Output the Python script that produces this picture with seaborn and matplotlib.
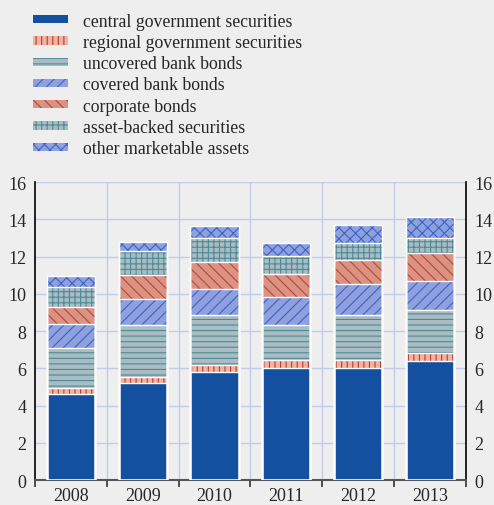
import numpy as np
import pandas as pd
import seaborn as sns
import matplotlib.pyplot as plt
from matplotlib.patches import Patch
from matplotlib.ticker import FixedLocator

# data (segment sizes)
years = ["2008", "2009", "2010", "2011", "2012", "2013"]
central = [4.64, 5.20, 5.78, 6.03, 6.04, 6.40]
regional = [0.28, 0.34, 0.39, 0.40, 0.43, 0.43]
uncovered = [2.16, 2.78, 2.69, 1.88, 2.41, 2.30]
covered = [1.28, 1.41, 1.41, 1.53, 1.65, 1.57]
corporate = [0.94, 1.27, 1.46, 1.21, 1.27, 1.48]
abs_sec = [1.04, 1.30, 1.28, 0.98, 0.93, 0.80]
other = [0.59, 0.46, 0.63, 0.68, 0.94, 1.15]

labels = ["central government securities", "regional government securities",
          "uncovered bank bonds", "covered bank bonds", "corporate bonds",
          "asset-backed securities", "other marketable assets"]
series = [central, regional, uncovered, covered, corporate, abs_sec, other]
faces = ["#1350a0", "#efb3a3", "#a9bcc2", "#8fa0dc", "#da9282", "#a9bcc2", "#8fa0dc"]
hatch_cols = ["#1350a0", "#bb3b2c", "#4c8a98", "#3a64c8", "#b8463a", "#4c8a98", "#3a64c8"]
hatches = ["", "|||", "---", "///", "\\\\\\", "+++", "xxx"]

bg = "#edeeed"
sns.set_style("white")
plt.rcParams["font.family"] = ["Liberation Serif", "DejaVu Serif"]
plt.rcParams["hatch.linewidth"] = 0.8

df = pd.DataFrame({"year": years})
tops = np.cumsum(np.array(series), axis=0)

fig = plt.figure(figsize=(4.94, 5.06), dpi=100, facecolor=bg)
ax = fig.add_axes([0.0709, 0.0494, 0.8721, 0.5889], facecolor=bg)

# stacked bars: draw tallest first, lower stacks cover them
for i in range(len(series) - 1, -1, -1):
    df["top"] = tops[i]
    sns.barplot(data=df, x="year", y="top", color=faces[i], hatch=hatches[i],
                edgecolor=hatch_cols[i], linewidth=0, width=0.67, saturation=1,
                ax=ax, zorder=2)
    sns.barplot(data=df, x="year", y="top", fill=False, edgecolor="white",
                linewidth=1.0, width=0.67, ax=ax, zorder=3)

ax.set_ylim(0, 16)
ax.set_xlim(-0.5, 5.5)
ax.set_yticks(range(0, 17, 2))
ax.xaxis.set_minor_locator(FixedLocator(np.arange(-0.5, 6, 1)))
ax.grid(False)
for y in range(2, 17, 2):
    ax.axhline(y, color="#c4cbea", lw=1.0, zorder=0)
for x in np.arange(0.5, 5, 1):
    ax.axvline(x, color="#c4cbea", lw=1.0, zorder=0)

ax.set_xlabel("")
ax.set_ylabel("")
ax.tick_params(axis="x", which="major", length=0, labelsize=13, pad=5)
ax.tick_params(axis="x", which="minor", bottom=True, length=5, width=1.2,
               color="#333333", direction="out")
ax.tick_params(axis="y", length=0, labelsize=13, labelleft=True, labelright=True, pad=6)
for s in ["left", "right"]:
    ax.spines[s].set_color("black")
    ax.spines[s].set_linewidth(1.2)
ax.spines["top"].set_visible(False)
ax.spines["bottom"].set_color("#555555")
ax.spines["bottom"].set_linewidth(1.5)

handles = [Patch(facecolor=faces[i], edgecolor=hatch_cols[i], hatch=hatches[i], lw=0)
           for i in range(len(series))]
fig.legend(handles, labels, loc="upper left", bbox_to_anchor=(0.067, 0.973),
           frameon=False, fontsize=12.75, handlelength=1.95, handleheight=0.35,
           handletextpad=0.85, labelspacing=0.24, borderpad=0, borderaxespad=0)

fig.savefig("out.png", dpi=100, facecolor=bg)
